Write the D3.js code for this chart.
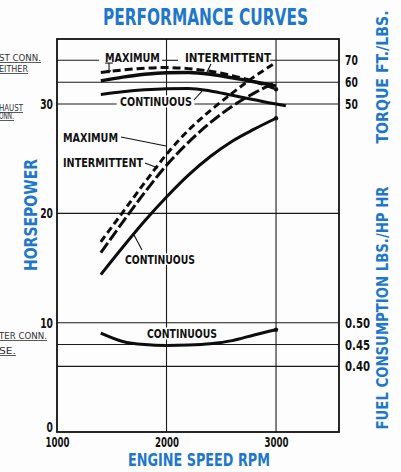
<!DOCTYPE html>
<html><head><meta charset="utf-8">
<script src="https://cdn.jsdelivr.net/npm/d3@7"></script>
<style>
html,body{margin:0;padding:0;background:#fff;}
svg{display:block;}
</style></head><body>
<script>
// ---- data ----
const rpmTicks = [1000, 2000, 3000];
const hpTicks = [0, 10, 20, 30];
const torqueTicks = [50, 60, 70];
const fuelTicks = [0.40, 0.45, 0.50];
const fuelTickLabels = ["0.40", "0.45", "0.50"];

const rpm = [1400, 1600, 1800, 2000, 2200, 2400, 2600, 2800, 3000];
const hpMaximum      = [17.4, 20.1, 22.8, 25.4, 27.6, 29.4, 31.0, 32.5, 33.8];
const hpIntermittent = [16.4, 19.2, 21.9, 24.4, 26.5, 28.3, 29.8, 31.0, 32.0];
const hpContinuous   = [14.4, 16.9, 19.3, 21.5, 23.5, 25.2, 26.6, 27.7, 28.7];
const torqueMaximum      = [64.4, 65.6, 66.4, 66.7, 66.2, 65.0, 63.0, 60.3, 56.8];
const torqueIntermittent = [60.6, 62.3, 63.6, 64.3, 64.4, 63.6, 62.0, 60.2, 58.3];
const rpmTorqueContinuous = [1400, 1600, 1800, 2000, 2200, 2400, 2600, 2800, 3000, 3090];
const torqueContinuous    = [54.4, 55.6, 56.5, 57.0, 57.1, 56.0, 54.0, 52.0, 50.0, 49.2];
const fuelContinuous = [0.476, 0.457, 0.450, 0.448, 0.449, 0.452, 0.459, 0.472, 0.484];

const W = 401, H = 472;
const blue = "#1f77c9";
const condensed = "'Liberation Sans Narrow','DejaVu Sans Condensed',Roboto,sans-serif";

const svg = d3.select("body").append("svg").attr("width", W).attr("height", H);
svg.append("rect").attr("width", W).attr("height", H).attr("fill", "#fdfdfd");

const x = d3.scaleLinear().domain([1000, 3575]).range([57, 339]);
const yHP = d3.scaleLinear().domain([0, 35.95]).range([432, 39]);
const yTorque = d3.scaleLinear().domain([50, 70]).range([yHP(30), yHP(34)]);
const yFuel = d3.scaleLinear().domain([0.40, 0.50]).range([yHP(6), yHP(10)]);

const [x0, x1] = x.range();
const [yb, yt] = yHP.range();

// ---- grid ----
const grid = svg.append("g").attr("stroke", "#1a1a1a").attr("stroke-width", 1.1);
rpmTicks.slice(1).forEach(v => grid.append("line").attr("x1", x(v)).attr("x2", x(v)).attr("y1", yt).attr("y2", yb));
function hline(y, gaps) {
  let segs = [[1000, 3575]];
  (gaps || []).forEach(g => {
    const out = [];
    segs.forEach(s => {
      if (g[1] <= s[0] || g[0] >= s[1]) out.push(s);
      else { if (g[0] > s[0]) out.push([s[0], g[0]]); if (g[1] < s[1]) out.push([g[1], s[1]]); }
    });
    segs = out;
  });
  segs.forEach(s => grid.append("line").attr("x1", x(s[0])).attr("x2", x(s[1])).attr("y1", y).attr("y2", y));
}
hline(yHP(10)); hline(yHP(20));
hline(yHP(30), [[1545, 2255]]);
hline(yTorque(60));
hline(yTorque(70), [[1385, 1960], [2105, 2930]]);
hline(yFuel(0.45)); hline(yFuel(0.40));

// frame
svg.append("rect").attr("x", x0).attr("y", yt).attr("width", x1 - x0).attr("height", yb - yt)
  .attr("fill", "none").attr("stroke", "#111").attr("stroke-width", 1.8);

// ---- axes ----
function styleAxis(g) {
  g.select(".domain").remove();
  g.selectAll("text").attr("font-family", condensed).attr("font-weight", "bold")
    .attr("font-size", 14).attr("fill", "#111")
    .attr("textLength", function () { return this.textContent.length * 6.4; })
    .attr("lengthAdjust", "spacingAndGlyphs");
}
const axL = svg.append("g").attr("transform", `translate(${x0},0)`)
  .call(d3.axisLeft(yHP).tickValues(hpTicks).tickSize(0).tickPadding(4).tickFormat(d3.format("d")));
styleAxis(axL);
axL.selectAll(".tick").filter(d => d === 0).select("text").attr("dy", "-0.05em");
const axB = svg.append("g").attr("transform", `translate(0,${yb})`)
  .call(d3.axisBottom(x).tickValues(rpmTicks).tickSize(0).tickPadding(5).tickFormat(d3.format("d")));
styleAxis(axB);
axB.selectAll("text").attr("textLength", 24);
const axT = svg.append("g").attr("transform", `translate(${x1},0)`)
  .call(d3.axisRight(yTorque).tickValues(torqueTicks).tickSize(0).tickPadding(6).tickFormat(d3.format("d")));
styleAxis(axT);
const axF = svg.append("g").attr("transform", `translate(${x1},0)`)
  .call(d3.axisRight(yFuel).tickValues(fuelTicks).tickSize(0).tickPadding(6).tickFormat((d, i) => fuelTickLabels[i]));
styleAxis(axF);
axF.selectAll("text").attr("textLength", 25);

// ---- annotation labels (drawn with white halo) ----
function label(txt, r, hp, len) {
  svg.append("text").attr("x", x(r)).attr("y", yHP(hp)).text(txt)
    .attr("font-family", condensed).attr("font-weight", "bold").attr("font-size", 13)
    .attr("fill", "#111").attr("stroke", "#fff").attr("stroke-width", 3).attr("paint-order", "stroke")
    .attr("textLength", len).attr("lengthAdjust", "spacingAndGlyphs");
}
function leader(r1, h1, r2, h2) {
  svg.append("line").attr("x1", x(r1)).attr("y1", yHP(h1)).attr("x2", x(r2)).attr("y2", yHP(h2))
    .attr("stroke", "#111").attr("stroke-width", 1.1);
}
label("MAXIMUM", 1438, 33.85, 55);
label("INTERMITTENT", 2169, 33.85, 86);
label("CONTINUOUS", 1575, 29.82, 72);
label("MAXIMUM", 1055, 26.52, 55);
label("INTERMITTENT", 1055, 24.24, 80);
label("CONTINUOUS", 1621, 15.37, 70);
label("CONTINUOUS", 1822, 8.6, 70);

leader(2406, 33.66, 2361, 32.74);
leader(2251, 30.37, 2324, 31.19);
leader(1584, 26.98, 1995, 26.16);
leader(1804, 24.6, 1922, 24.15);
leader(1776, 16.65, 1694, 18.2);
// arrow under top MAXIMUM
leader(1475, 33.75, 1475, 32.95);
leader(1440, 33.75, 1510, 33.75);
svg.append("path").attr("d", d3.line()([[x(1475) - 2.5, yHP(33.1)], [x(1475) + 2.5, yHP(33.1)], [x(1475), yHP(32.8)]]) + "Z")
  .attr("fill", "#111");

// ---- curves ----
const curve = d3.curveMonotoneX;
function draw(xs, ys, yScale, dash, w) {
  svg.append("path").datum(xs.map((r, i) => [r, ys[i]]))
    .attr("d", d3.line().x(d => x(d[0])).y(d => yScale(d[1])).curve(curve))
    .attr("fill", "none").attr("stroke", "#0d0d0d").attr("stroke-width", w)
    .attr("stroke-dasharray", dash).attr("stroke-linecap", "butt");
}
draw(rpm, hpMaximum, yHP, "7,4", 3);
draw(rpm, hpIntermittent, yHP, "12,3.5", 3);
draw(rpm, hpContinuous, yHP, null, 3);
draw(rpm, torqueMaximum, yTorque, "8,4", 3);
draw(rpm, torqueIntermittent, yTorque, null, 3.4);
draw(rpmTorqueContinuous, torqueContinuous, yTorque, null, 3);
draw(rpm, fuelContinuous, yFuel, null, 3);

// end dots
[[rpm[rpm.length - 1], yHP(hpContinuous[hpContinuous.length - 1])],
 [rpm[rpm.length - 1], yFuel(fuelContinuous[fuelContinuous.length - 1])],
 [rpm[rpm.length - 1], yTorque(torqueMaximum[torqueMaximum.length - 1])]].forEach(p =>
  svg.append("circle").attr("cx", x(p[0])).attr("cy", p[1]).attr("r", 2.2).attr("fill", "#111"));

// ---- titles ----
svg.append("text").attr("x", 103).attr("y", 25).text("PERFORMANCE CURVES")
  .attr("font-family", condensed).attr("font-weight", "bold").attr("font-size", 23).attr("fill", blue)
  .attr("textLength", 205).attr("lengthAdjust", "spacingAndGlyphs");
svg.append("text").attr("x", 128).attr("y", 466).text("ENGINE SPEED RPM")
  .attr("font-family", condensed).attr("font-weight", "bold").attr("font-size", 18).attr("fill", blue)
  .attr("textLength", 142).attr("lengthAdjust", "spacingAndGlyphs");
function vtitle(txt, cx, cy, size, len) {
  svg.append("text").attr("transform", `translate(${cx},${cy}) rotate(-90)`).attr("text-anchor", "middle")
    .text(txt).attr("font-family", condensed).attr("font-weight", "bold").attr("font-size", size)
    .attr("fill", blue).attr("textLength", len).attr("lengthAdjust", "spacingAndGlyphs");
}
vtitle("HORSEPOWER", 36.5, 215, 18, 112);
vtitle("TORQUE FT./LBS.", 388, 77, 16, 133);
vtitle("FUEL CONSUMPTION LBS./HP HR", 388, 308, 16, 243);

// ---- cut-off fragments at the left edge ----
function frag(txt, fx, fy, len) {
  svg.append("text").attr("x", fx).attr("y", fy).text(txt)
    .attr("font-family", "'DejaVu Sans',sans-serif").attr("font-size", 8).attr("fill", "#333")
    .attr("text-decoration", "underline").attr("textLength", len).attr("lengthAdjust", "spacingAndGlyphs");
}
frag("ST CONN.", -1, 61, 42);
frag("EITHER", -1, 72, 29);
frag("HAUST", -1, 111, 24);
frag("ONN.", -1, 119, 15);
frag("TER CONN.", -1, 339, 48);
frag("SE.", -1, 354, 17);
</script>
</body></html>
